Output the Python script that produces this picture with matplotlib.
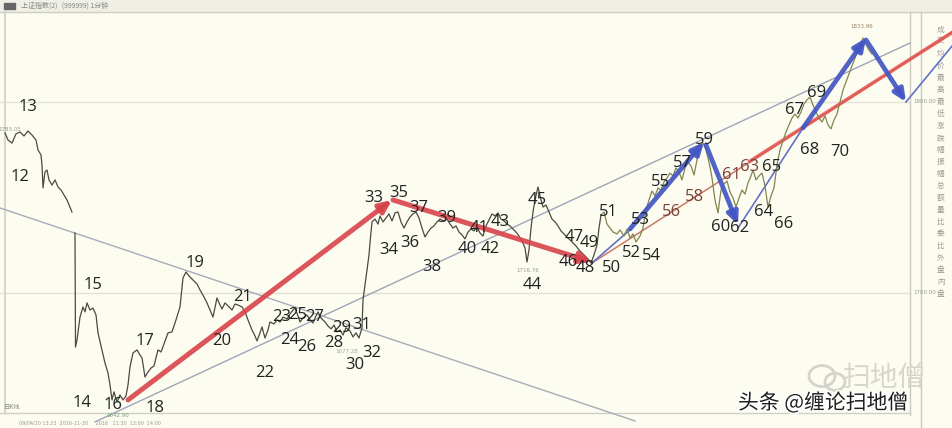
import numpy as np
import matplotlib
matplotlib.use("Agg")
import matplotlib.pyplot as plt
import matplotlib.patheffects as pe
from matplotlib.patches import Rectangle, Ellipse

# ---------------- data (time index, index level) ----------------
seg1_t = [5, 8, 12, 16, 20, 24, 28, 32, 36, 38, 41, 42, 43, 45, 47, 49, 52, 55, 58, 61, 64, 67, 69, 72]
seg1_p = [1783.8, 1780.1, 1778.5, 1783.3, 1784.3, 1782.2, 1784.8, 1782.7, 1780.1, 1774.9, 1772.3, 1767.0,
          1755.0, 1763.4, 1764.4, 1759.2, 1756.5, 1759.2, 1755.5, 1753.9, 1751.3, 1748.7, 1746.1, 1742.4]

seg2_t = [75, 75.5, 77, 80, 83, 85, 87, 90, 93, 96, 98, 102, 105, 108, 110, 112, 114, 117, 120, 123, 126, 128,
          130, 133, 137, 140, 142, 145, 148, 151, 154, 158, 161, 164, 168, 172, 176, 180, 183, 186, 189, 193,
          197, 200, 204, 207, 210, 213, 217, 220, 222, 225, 228, 232, 235, 238, 242, 245, 248, 252, 255, 257,
          260, 262, 265, 268, 270, 274, 277, 280, 283, 287, 290, 293, 295, 298, 300, 303, 307, 310, 313, 316,
          318, 321, 325, 328, 331, 334, 337, 340, 343, 346, 350, 353, 356, 359, 362, 363, 365, 367, 369, 370,
          372, 375, 378, 380, 383, 386, 389, 392, 395, 398, 401, 404, 407, 410, 413, 416, 419, 422, 425, 428,
          431, 434, 437, 440, 444, 447, 450, 453, 456, 459, 462, 465, 468, 471, 474, 477, 480, 483, 486, 489,
          492, 495, 498, 501, 504, 507, 510, 513, 516, 519, 522, 525, 527, 529, 531, 533, 535, 538, 541, 543,
          546, 549, 552, 555, 558, 561, 564, 567, 570, 573, 576, 579, 582, 585, 588, 591, 594, 597, 599, 601]
seg2_p = [1731.4, 1671.7, 1675.4, 1687.4, 1692.7, 1690.1, 1694.8, 1691.1, 1692.1, 1688.5, 1679.1, 1670.2,
          1663.3, 1658.1, 1651.8, 1644.0, 1648.2, 1642.9, 1646.6, 1644.0, 1646.1, 1651.8, 1661.3, 1668.6,
          1670.2, 1667.5, 1666.0, 1656.0, 1658.6, 1660.7, 1661.8, 1670.2, 1669.1, 1673.3, 1679.1, 1679.6,
          1685.9, 1692.7, 1707.9, 1711.0, 1708.9, 1706.8, 1704.7, 1701.6, 1697.9, 1694.8, 1691.1, 1687.4,
          1697.4, 1693.7, 1691.6, 1694.8, 1693.2, 1691.1, 1694.2, 1693.7, 1692.7, 1690.1, 1685.9, 1680.6,
          1677.5, 1674.9, 1679.1, 1682.2, 1676.4, 1680.6, 1684.8, 1683.8, 1685.9, 1684.8, 1687.4, 1686.4,
          1689.0, 1691.1, 1692.1, 1688.0, 1684.8, 1686.9, 1688.5, 1685.9, 1684.3, 1688.0, 1690.1, 1686.9,
          1684.8, 1682.7, 1681.2, 1683.2, 1679.6, 1680.6, 1678.0, 1681.7, 1680.1, 1677.0, 1679.1, 1676.4,
          1681.7, 1696.3, 1704.2, 1712.0, 1719.9, 1726.2, 1737.2, 1738.7, 1736.1, 1740.3, 1737.2, 1739.3,
          1741.4, 1737.7, 1741.9, 1742.4, 1737.2, 1734.0, 1737.2, 1739.8, 1741.4, 1742.4, 1739.3, 1734.0,
          1729.3, 1731.9, 1734.0, 1735.1, 1737.2, 1738.7, 1737.7, 1738.7, 1736.1, 1734.0, 1735.1, 1731.9,
          1730.4, 1728.3, 1731.9, 1733.5, 1732.5, 1734.6, 1731.4, 1729.8, 1735.1, 1738.2, 1741.4, 1740.3,
          1741.9, 1738.7, 1737.7, 1736.1, 1735.1, 1733.5, 1731.9, 1729.8, 1727.2, 1723.6, 1716.2, 1722.5,
          1734.0, 1742.4, 1748.7, 1755.5, 1748.7, 1745.0, 1746.1, 1742.4, 1738.7, 1737.2, 1735.1, 1732.5,
          1730.9, 1729.3, 1727.8, 1726.2, 1724.6, 1722.5, 1720.9, 1719.4, 1717.8, 1715.7, 1719.9, 1725.1,
          1734.0, 1740.8]

seg3_t = [601, 604, 607, 610, 613, 617, 620, 624, 627, 630, 633, 636, 640, 643, 646, 649, 652, 655, 658, 661,
          664, 667, 670, 673, 676, 679, 682, 685, 688, 691, 694, 697, 700, 703, 706, 709, 712, 715, 718, 721,
          724, 727, 730, 733, 736, 739, 742, 745, 748, 751, 753, 756, 759, 762, 765, 768, 771, 774, 777, 780,
          783, 786, 789, 792, 795, 798, 801, 804, 807, 810, 813, 816, 819, 822, 825, 828, 831, 834, 837, 840,
          843, 846, 849, 852, 855, 858, 861, 863, 866, 869, 872]
seg3_p = [1740.8, 1742.4, 1736.1, 1734.0, 1731.9, 1730.9, 1733.0, 1729.8, 1733.5, 1728.8, 1730.9, 1726.7,
          1729.8, 1734.0, 1743.5, 1748.7, 1753.4, 1750.8, 1755.0, 1753.9, 1758.1, 1760.2, 1762.8, 1761.3,
          1765.5, 1763.4, 1759.2, 1765.5, 1768.6, 1766.5, 1761.8, 1769.6, 1775.9, 1778.5, 1774.9, 1768.6,
          1760.2, 1748.7, 1741.9, 1753.9, 1757.1, 1758.6, 1752.9, 1749.7, 1745.0, 1749.7, 1753.9, 1751.8,
          1757.6, 1761.3, 1764.4, 1759.2, 1761.3, 1762.8, 1756.0, 1745.0, 1750.8, 1755.0, 1767.0, 1774.9,
          1779.6, 1784.3, 1788.0, 1791.6, 1793.7, 1791.6, 1794.8, 1799.0, 1801.1, 1802.6, 1798.4, 1794.8,
          1791.6, 1789.5, 1792.7, 1788.0, 1785.9, 1790.6, 1793.7, 1800.0, 1806.3, 1810.5, 1814.7, 1818.9,
          1823.0, 1827.2, 1830.9, 1833.5, 1829.9, 1827.2, 1825.1]

# wave labels
wave_num = list(range(12, 71))
wave_t = [20, 28, 82, 93, 113, 145, 155, 195, 222, 243, 265, 282, 290, 298, 307, 315, 334, 342, 355, 362,
          372, 374, 389, 399, 410, 419, 432, 447, 467, 479, 490, 500, 532, 537, 568, 574, 585, 589, 612, 608,
          631, 640, 652, 660, 672, 682, 695, 704, 721, 732, 740, 750, 764, 772, 784, 795, 810, 817, 840]
wave_p = [1760.7, 1797.4, 1642.4, 1704.2, 1641.4, 1674.9, 1639.8, 1715.7, 1674.9, 1697.9, 1658.1, 1687.4,
          1675.4, 1688.5, 1671.7, 1687.4, 1673.8, 1681.7, 1662.3, 1683.2, 1668.6, 1749.7, 1722.5, 1752.4,
          1726.2, 1744.5, 1713.6, 1739.3, 1723.0, 1734.0, 1723.0, 1737.2, 1704.2, 1748.7, 1716.2, 1729.3,
          1713.1, 1726.2, 1713.1, 1742.4, 1720.9, 1738.2, 1719.4, 1758.1, 1742.4, 1768.1, 1750.3, 1780.1,
          1734.6, 1761.8, 1734.0, 1766.0, 1742.4, 1766.0, 1736.1, 1795.8, 1774.9, 1804.7, 1773.8]

# trend lines (start/end in time, level)
desc_line = ([0, 635], [1744.5, 1633.0])
asc_line = ([95, 910], [1632.5, 1830.9])
red_thin = ([592, 953], [1715.7, 1836.7])
red_thick = ([750, 953], [1769.0, 1836.7])
red_arrows = [([128, 392], [1644.0, 1748.7]), ([393, 592], [1748.7, 1716.2])]
blue_thin = [([592, 632], [1715.7, 1734.0]), ([738, 805], [1734.0, 1788.0]), ([906, 953], [1800.0, 1829.9])]
blue_arrows = [([630, 704], [1733.5, 1779.1]), ([706, 738], [1777.5, 1735.6]),
               ([803, 866], [1786.4, 1833.5]), ([866, 906], [1832.5, 1800.0])]
grid_levels = [1700.0, 1800.0]
axis_labels = ["1700.00", "1800.00"]

# ---------------- figure ----------------
W, H = 953, 428
fig = plt.figure(figsize=(W / 100, H / 100), dpi=100)
fig.patch.set_facecolor("#fcfcf0")
ax = fig.add_axes([0, 0, 1, 1])
ax.set_facecolor("#fcfcf0")
ax.set_xlim(0, W)
ax.set_ylim(1629.3, 1853.4)
ax.axis("off")

cjk = ["Noto Sans CJK SC", "DejaVu Sans"]

# grid
for lv in grid_levels:
    ax.plot([0, 910], [lv, lv], color="#e2e2d6", lw=1.0, zorder=1)

# frame elements
ax.add_patch(Rectangle((0, 0.973), 1, 0.027, transform=ax.transAxes, color="#efefe6", zorder=1))
ax.plot([0, 1], [0.973, 0.973], transform=ax.transAxes, color="#cfcfc6", lw=1, zorder=2)
ax.plot([0.0055, 0.0055], [0.035, 0.973], transform=ax.transAxes, color="#d6d6ce", lw=1.5, zorder=2)
ax.plot([0.955, 0.955], [0.03, 0.973], transform=ax.transAxes, color="#c9c9c0", lw=1, zorder=2)
ax.plot([0.966, 0.966], [0.0, 0.973], transform=ax.transAxes, color="#c9c9c0", lw=1, zorder=2)
ax.plot([0, 0.955], [0.035, 0.035], transform=ax.transAxes, color="#cfcfc6", lw=1, zorder=2)
ax.add_patch(Rectangle((0.004, 0.978), 0.012, 0.016, transform=ax.transAxes, color="#666", zorder=3))
ax.text(0.022, 0.986, "上证指数(2)   (999999) 1分钟", transform=ax.transAxes, fontsize=5,
        color="#888", va="center", family=cjk, zorder=3)
ax.text(0.004, 0.04, "日K线", transform=ax.transAxes, fontsize=4.5, color="#888", va="bottom",
        family=cjk, zorder=3)
ax.text(0.02, 0.012, "09/04/20 13:23  2016-11-30     2016   11:30  13:00  14:00", transform=ax.transAxes,
        fontsize=3.5, color="#999", va="center", zorder=3)
side = "成交均价最高最低涨跌幅振幅总额量比委比外盘内盘"
for i, ch in enumerate(side):
    ax.text(0.987, 0.93 - i * 0.028, ch, transform=ax.transAxes, fontsize=5.5, color="#9a9a92",
            ha="center", va="center", family=cjk, zorder=3)
for lv, lab in zip(grid_levels, axis_labels):
    ax.text(913, lv, lab, fontsize=4, color="#999", va="center", ha="left", zorder=3)

# trend lines
ax.plot(*desc_line, color="#a9abb6", lw=1.0, zorder=3)
ax.plot(*asc_line, color="#a0a4b6", lw=1.0, zorder=3)
ax.plot(*red_thin, color="#c87a68", lw=1.1, zorder=3)
ax.plot(*red_thick, color="#e4534f", lw=2.6, alpha=0.85, zorder=3)
for t, p in blue_thin:
    ax.plot(t, p, color="#6272c8", lw=1.2, zorder=3)

# price line
ax.plot(seg1_t, seg1_p, color="#4a4a40", lw=0.9, zorder=4)
ax.plot(seg2_t, seg2_p, color="#4a4a40", lw=0.9, zorder=4)
ax.plot(seg3_t, seg3_p, color="#80864e", lw=0.9, zorder=4)

# arrows
for t, p in red_arrows:
    ax.annotate("", xy=(t[1], p[1]), xytext=(t[0], p[0]),
                arrowprops=dict(arrowstyle="-|>,head_length=0.7,head_width=0.32", lw=3.6,
                                color="#d8434b", shrinkA=0, shrinkB=0, alpha=0.9), zorder=5)
for t, p in blue_arrows:
    ax.annotate("", xy=(t[1], p[1]), xytext=(t[0], p[0]),
                arrowprops=dict(arrowstyle="-|>,head_length=0.7,head_width=0.32", lw=3.4,
                                color="#4356c4", shrinkA=0, shrinkB=0, alpha=0.92), zorder=5)

# wave labels
reddish = {56, 58, 61, 63}
for n, t, p in zip(wave_num, wave_t, wave_p):
    ax.text(t, p, str(n), fontsize=12, family=["Open Sans", "DejaVu Sans"],
            color="#7a4038" if n in reddish else "#222222", ha="center", va="center", zorder=6)

# small price tags
ax.text(528, 1712.0, "1716.76", fontsize=4, color="#999", ha="center", va="center", zorder=6)
ax.text(862, 1839.3, "1833.96", fontsize=4, color="#a08060", ha="center", va="center", zorder=6)
ax.text(347, 1669.6, "1677.28", fontsize=4, color="#aaa", ha="center", va="center", zorder=6)
ax.text(118, 1636.1, "1642.90", fontsize=4, color="#7aa07a", ha="center", va="center", zorder=6)
ax.text(21, 1785.4, "1783.05", fontsize=4, color="#999", ha="right", va="center", zorder=6)

# watermarks
ax.add_patch(Ellipse((822, 1656.5), 26, 11, fill=False, ec="#d4d4cc", lw=2, zorder=2))
ax.add_patch(Ellipse((835, 1653.5), 20, 9, fill=False, ec="#d4d4cc", lw=2, zorder=2))
ax.text(843, 1655.5, "扫地僧", fontsize=20, color="#d6d6ce", ha="left", va="center", family=cjk, zorder=2)
ax.text(738, 1642.4, "头条 @缠论扫地僧", fontsize=15, color="#1e1e1e", ha="left", va="center", family=cjk,
        zorder=7, path_effects=[pe.withStroke(linewidth=2.5, foreground="white")])

fig.savefig("out.png", dpi=100, facecolor=fig.get_facecolor())
